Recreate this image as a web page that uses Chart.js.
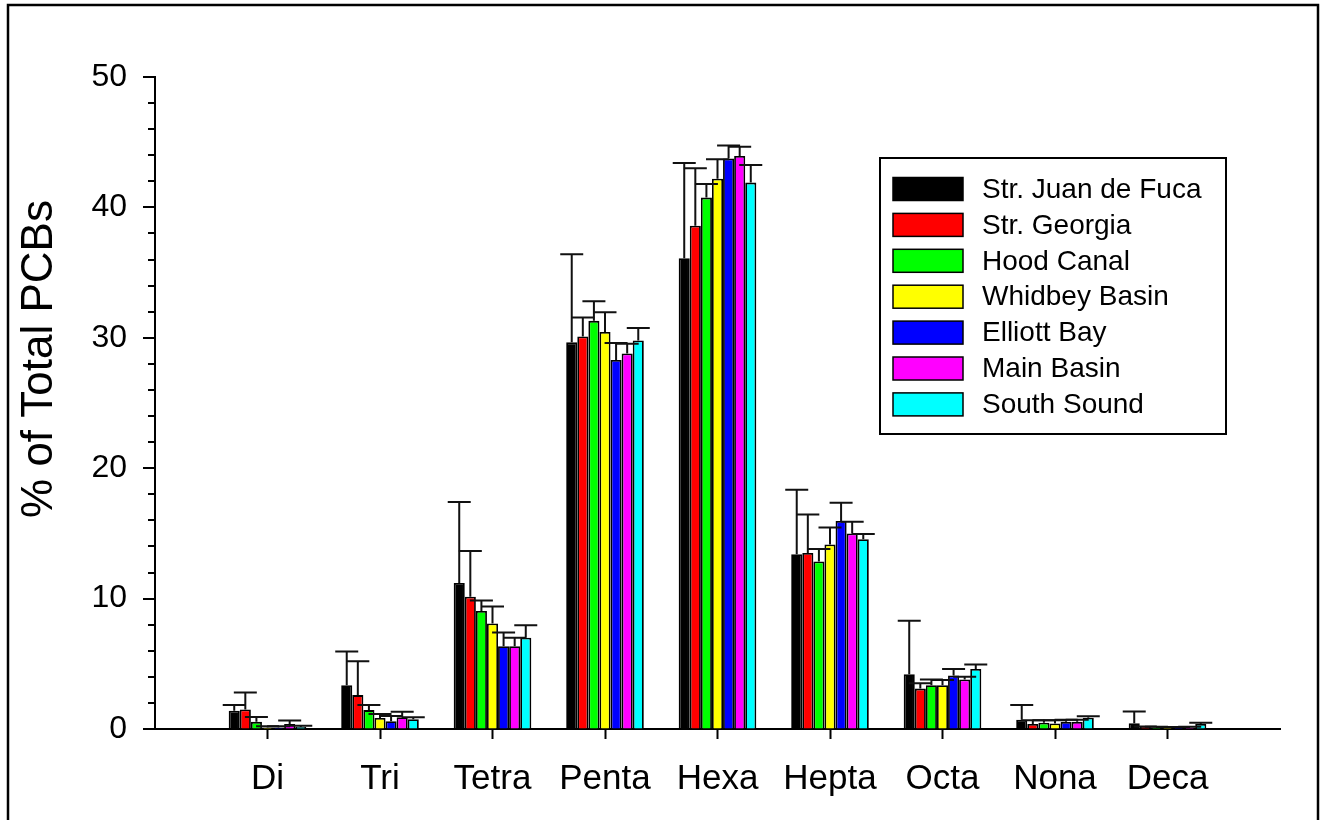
<!DOCTYPE html>
<html>
<head>
<meta charset="utf-8">
<script src="https://cdn.jsdelivr.net/npm/chart.js@4/dist/chart.umd.min.js"></script>
<style>
  html, body { margin: 0; padding: 0; background: #fff; }
  #wrap { position: relative; width: 1325px; height: 820px; }
</style>
</head>
<body>
<div id="wrap"><canvas id="c" width="1325" height="820"></canvas></div>
<script>
const categories = ['Di', 'Tri', 'Tetra', 'Penta', 'Hexa', 'Hepta', 'Octa', 'Nona', 'Deca'];
const seriesNames = ['Str. Juan de Fuca', 'Str. Georgia', 'Hood Canal', 'Whidbey Basin', 'Elliott Bay', 'Main Basin', 'South Sound'];
const seriesColors = ['#000000', '#ff0000', '#00ff00', '#ffff00', '#0000ff', '#ff00ff', '#00ffff'];

const juanDeFuca     = [1.40, 3.35, 11.20, 29.65, 36.10, 13.40, 4.20, 0.70, 0.45];
const juanDeFucaErr  = [0.45, 2.60, 6.20, 6.75, 7.30, 4.95, 4.10, 1.15, 0.90];
const georgia        = [1.50, 2.60, 10.15, 30.10, 38.60, 13.50, 3.10, 0.38, 0.15];
const georgiaErr     = [1.30, 2.60, 3.50, 1.45, 4.40, 2.95, 0.40, 0.30, 0.05];
const hoodCanal      = [0.55, 1.45, 9.05, 31.30, 40.75, 12.85, 3.35, 0.48, 0.12];
const hoodCanalErr   = [0.37, 0.40, 0.80, 1.50, 1.05, 0.95, 0.45, 0.20, 0.05];
const whidbey        = [0.12, 0.85, 8.10, 30.45, 42.20, 14.15, 3.35, 0.42, 0.10];
const whidbeyErr     = [0.10, 0.30, 1.30, 1.50, 1.50, 1.30, 0.40, 0.25, 0.05];
const elliottBay     = [0.12, 0.60, 6.35, 28.30, 43.75, 15.95, 4.10, 0.55, 0.10];
const elliottBayErr  = [0.10, 0.40, 1.05, 1.30, 1.00, 1.40, 0.50, 0.15, 0.05];
const mainBasin      = [0.38, 0.90, 6.35, 28.80, 43.95, 15.00, 3.80, 0.55, 0.12];
const mainBasinErr   = [0.27, 0.43, 0.65, 0.75, 0.70, 0.90, 0.20, 0.15, 0.05];
const southSound     = [0.15, 0.75, 7.00, 29.80, 41.90, 14.55, 4.60, 0.87, 0.38];
const southSoundErr  = [0.10, 0.15, 0.95, 0.95, 1.35, 0.40, 0.35, 0.10, 0.10];

const yMin = 0, yMax = 50, yMinorStep = 2, yMajorStep = 10;
const yTitle = '% of Total PCBs';

const values = [juanDeFuca, georgia, hoodCanal, whidbey, elliottBay, mainBasin, southSound];
const errors = [juanDeFucaErr, georgiaErr, hoodCanalErr, whidbeyErr, elliottBayErr, mainBasinErr, southSoundErr];

const FONT = "'Liberation Sans', Arial, Helvetica, sans-serif";

// padded labels: empty slot at each end of the axis
const labels = [''].concat(categories, ['']);
const datasets = seriesNames.map((name, i) => ({
  label: name,
  data: [null].concat(values[i], [null]),
  errs: [null].concat(errors[i], [null]),
  backgroundColor: seriesColors[i],
  borderColor: '#000',
  borderWidth: 1.8,
  categoryPercentage: 0.69,
  barPercentage: 1.0
}));

const errorBarPlugin = {
  id: 'errorBars',
  afterDatasetsDraw(chart) {
    const ctx = chart.ctx;
    const y = chart.scales.y;
    ctx.save();
    ctx.strokeStyle = '#111';
    ctx.lineWidth = 2;
    chart.data.datasets.forEach((ds, di) => {
      const meta = chart.getDatasetMeta(di);
      meta.data.forEach((el, idx) => {
        const v = ds.data[idx], e = ds.errs[idx];
        if (v == null || e == null) return;
        const yTop = y.getPixelForValue(v + e);
        const yBar = y.getPixelForValue(v);
        ctx.beginPath();
        ctx.moveTo(el.x, yBar);
        ctx.lineTo(el.x, yTop);
        ctx.moveTo(el.x - 11.5, yTop);
        ctx.lineTo(el.x + 11.5, yTop);
        ctx.stroke();
      });
    });
    ctx.restore();
  }
};

const decorPlugin = {
  id: 'decor',
  afterDraw(chart) {
    const ctx = chart.ctx;
    const y = chart.scales.y;
    const left = chart.chartArea.left;
    ctx.save();
    // y-axis ticks (outward), major and minor
    ctx.strokeStyle = '#000';
    ctx.lineWidth = 2;
    for (let v = yMin; v <= yMax; v += yMinorStep) {
      const py = Math.round(y.getPixelForValue(v));
      const len = (v % yMajorStep === 0) ? 12 : 7;
      ctx.beginPath();
      ctx.moveTo(left - len, py);
      ctx.lineTo(left, py);
      ctx.stroke();
    }
    // y-axis title
    ctx.fillStyle = '#000';
    ctx.font = '44px ' + FONT;
    ctx.textAlign = 'center';
    ctx.textBaseline = 'middle';
    ctx.translate(40, 359);
    ctx.rotate(-Math.PI / 2);
    ctx.fillText(yTitle, 0, 0);
    ctx.setTransform(1, 0, 0, 1, 0, 0);

    // legend
    const lx = 880, ly = 158, lw = 346, lh = 276;
    ctx.lineWidth = 2;
    ctx.strokeStyle = '#000';
    ctx.strokeRect(lx, ly, lw, lh);
    ctx.font = '28px ' + FONT;
    ctx.textAlign = 'left';
    ctx.textBaseline = 'middle';
    seriesNames.forEach((name, i) => {
      const cy = 189 + i * 35.9;
      ctx.fillStyle = seriesColors[i];
      ctx.fillRect(893, cy - 11.5, 70, 23);
      ctx.lineWidth = 1.5;
      ctx.strokeStyle = '#000';
      ctx.strokeRect(893, cy - 11.5, 70, 23);
      ctx.fillStyle = '#000';
      ctx.fillText(name, 982, cy + 1);
    });

    // outer frame
    ctx.lineWidth = 2.5;
    ctx.strokeStyle = '#000';
    ctx.strokeRect(8, 5, 1310, 830);
    ctx.restore();
  }
};

new Chart(document.getElementById('c'), {
  type: 'bar',
  data: { labels: labels, datasets: datasets },
  options: {
    responsive: false,
    animation: false,
    devicePixelRatio: 1,
    layout: { padding: { left: 10, top: 77, right: 45, bottom: 0 } },
    plugins: { legend: { display: false }, tooltip: { enabled: false }, title: { display: false } },
    scales: {
      x: {
        type: 'category',
        offset: false,
        grid: {
          display: true,
          offset: false,
          drawOnChartArea: false,
          drawTicks: true,
          tickLength: 10,
          tickWidth: 2,
          tickColor: (c) => (c.tick && c.tick.label === '') ? 'rgba(0,0,0,0)' : '#000'
        },
        border: { display: true, color: '#000', width: 2 },
        ticks: {
          autoSkip: false,
          maxRotation: 0,
          minRotation: 0,
          padding: 19,
          color: '#000',
          font: { family: FONT, size: 35 }
        },
        afterFit(scale) { scale.height = 91; }
      },
      y: {
        min: yMin,
        max: yMax,
        grid: { display: true, drawOnChartArea: false, drawTicks: false },
        border: { display: true, color: '#000', width: 2 },
        ticks: {
          stepSize: yMinorStep,
          autoSkip: false,
          padding: 28,
          color: '#000',
          font: { family: FONT, size: 32 },
          callback: (v) => (v % yMajorStep === 0 ? String(v) : '')
        },
        afterFit(scale) { scale.width = 145; }
      }
    }
  },
  plugins: [errorBarPlugin, decorPlugin]
});
</script>
</body>
</html>
